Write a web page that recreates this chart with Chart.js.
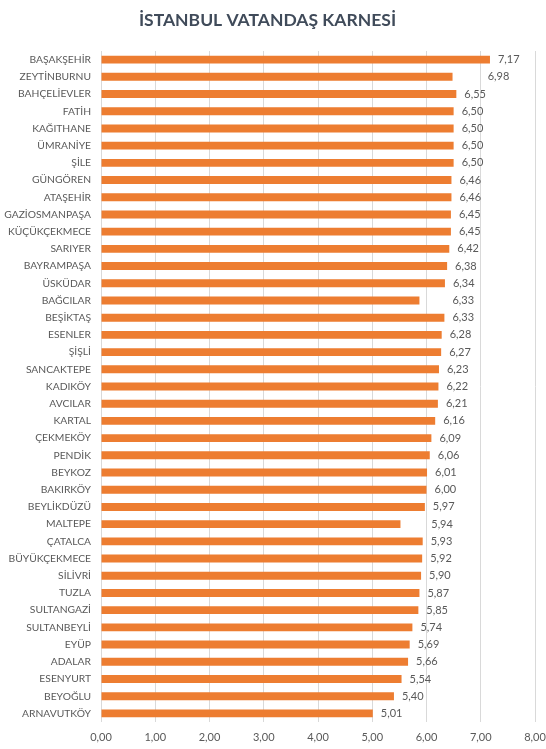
<!DOCTYPE html>
<html lang="tr">
<head>
<meta charset="utf-8">
<title>İstanbul Vatandaş Karnesi</title>
<script src="https://cdn.jsdelivr.net/npm/chart.js@4.4.1/dist/chart.umd.min.js"></script>
<style>
    html, body { margin: 0; padding: 0; background: #ffffff; }
    #chartBox { width: 546px; height: 749px; position: relative; }
</style>
</head>
<body>
<div id="chartBox"><canvas id="karneChart"></canvas></div>
<script>
const districts = [
    'BAŞAKŞEHİR', 'ZEYTİNBURNU', 'BAHÇELİEVLER', 'FATİH', 'KAĞITHANE', 'ÜMRANİYE', 'ŞİLE',
    'GÜNGÖREN', 'ATAŞEHİR', 'GAZİOSMANPAŞA', 'KÜÇÜKÇEKMECE', 'SARIYER', 'BAYRAMPAŞA', 'ÜSKÜDAR',
    'BAĞCILAR', 'BEŞİKTAŞ', 'ESENLER', 'ŞİŞLİ', 'SANCAKTEPE', 'KADIKÖY', 'AVCILAR', 'KARTAL',
    'ÇEKMEKÖY', 'PENDİK', 'BEYKOZ', 'BAKIRKÖY', 'BEYLİKDÜZÜ', 'MALTEPE', 'ÇATALCA', 'BÜYÜKÇEKMECE',
    'SİLİVRİ', 'TUZLA', 'SULTANGAZİ', 'SULTANBEYLİ', 'EYÜP', 'ADALAR', 'ESENYURT', 'BEYOĞLU', 'ARNAVUTKÖY'
];

// bar lengths as drawn in the picture (a few bars do not match their printed value)
const barValues = [
    7.17, 6.48, 6.55, 6.50, 6.50, 6.50, 6.50,
    6.46, 6.46, 6.45, 6.45, 6.42, 6.38, 6.34,
    5.87, 6.33, 6.28, 6.27, 6.23, 6.22, 6.21, 6.16,
    6.09, 6.06, 6.01, 6.00, 5.97, 5.52, 5.93, 5.92,
    5.90, 5.87, 5.85, 5.74, 5.69, 5.66, 5.54, 5.40, 5.01
];

// printed data labels
const labelValues = [
    7.17, 6.98, 6.55, 6.50, 6.50, 6.50, 6.50,
    6.46, 6.46, 6.45, 6.45, 6.42, 6.38, 6.34,
    6.33, 6.33, 6.28, 6.27, 6.23, 6.22, 6.21, 6.16,
    6.09, 6.06, 6.01, 6.00, 5.97, 5.94, 5.93, 5.92,
    5.90, 5.87, 5.85, 5.74, 5.69, 5.66, 5.54, 5.40, 5.01
];

const xTicks = [0, 1, 2, 3, 4, 5, 6, 7, 8];

function formatTr(v) {
    return v.toFixed(2).replace('.', ',');
}

const valueLabels = {
    id: 'valueLabels',
    afterDatasetsDraw(chart) {
        const ctx = chart.ctx;
        const xScale = chart.scales.x;
        const meta = chart.getDatasetMeta(0);
        ctx.save();
        ctx.font = '11px Lato';
        ctx.fillStyle = '#595959';
        ctx.textAlign = 'left';
        ctx.textBaseline = 'middle';
        meta.data.forEach((bar, i) => {
            const x = xScale.getPixelForValue(labelValues[i]) + 8;
            ctx.fillText(formatTr(labelValues[i]), x, bar.y);
        });
        ctx.restore();
    }
};

const ctx = document.getElementById('karneChart').getContext('2d');
new Chart(ctx, {
    type: 'bar',
    data: {
        labels: districts,
        datasets: [{
            label: 'Karne',
            data: barValues,
            backgroundColor: '#ED7D31',
            borderWidth: 0,
            categoryPercentage: 1,
            barPercentage: 0.46
        }]
    },
    options: {
        indexAxis: 'y',
        responsive: true,
        maintainAspectRatio: false,
        animation: false,
        layout: {
            padding: { left: 0, right: 11, top: 0, bottom: 0 }
        },
        plugins: {
            legend: { display: false },
            tooltip: { enabled: false },
            title: {
                display: true,
                text: 'İSTANBUL VATANDAŞ KARNESİ',
                color: '#404B5A',
                font: { family: 'Lato', size: 17.5, weight: 'bold' },
                padding: { top: 10, bottom: 20 }
            }
        },
        scales: {
            x: {
                min: 0,
                max: 8,
                afterBuildTicks: scale => {
                    scale.ticks = xTicks.map(v => ({ value: v }));
                },
                afterFit: scale => {
                    scale.height = 27;
                    scale.paddingLeft = 0;
                    scale.paddingRight = 0;
                },
                grid: { color: '#D9D9D9', drawTicks: false },
                border: { display: false },
                ticks: {
                    padding: 9,
                    color: '#595959',
                    font: { family: 'Lato', size: 11 },
                    callback: v => formatTr(v)
                }
            },
            y: {
                afterFit: scale => { scale.width = 101; },
                grid: { display: false, drawTicks: false },
                border: { display: false },
                ticks: {
                    padding: 10,
                    autoSkip: false,
                    color: '#595959',
                    font: { family: 'Lato', size: 10.3 }
                }
            }
        }
    },
    plugins: [valueLabels]
});
</script>
</body>
</html>
